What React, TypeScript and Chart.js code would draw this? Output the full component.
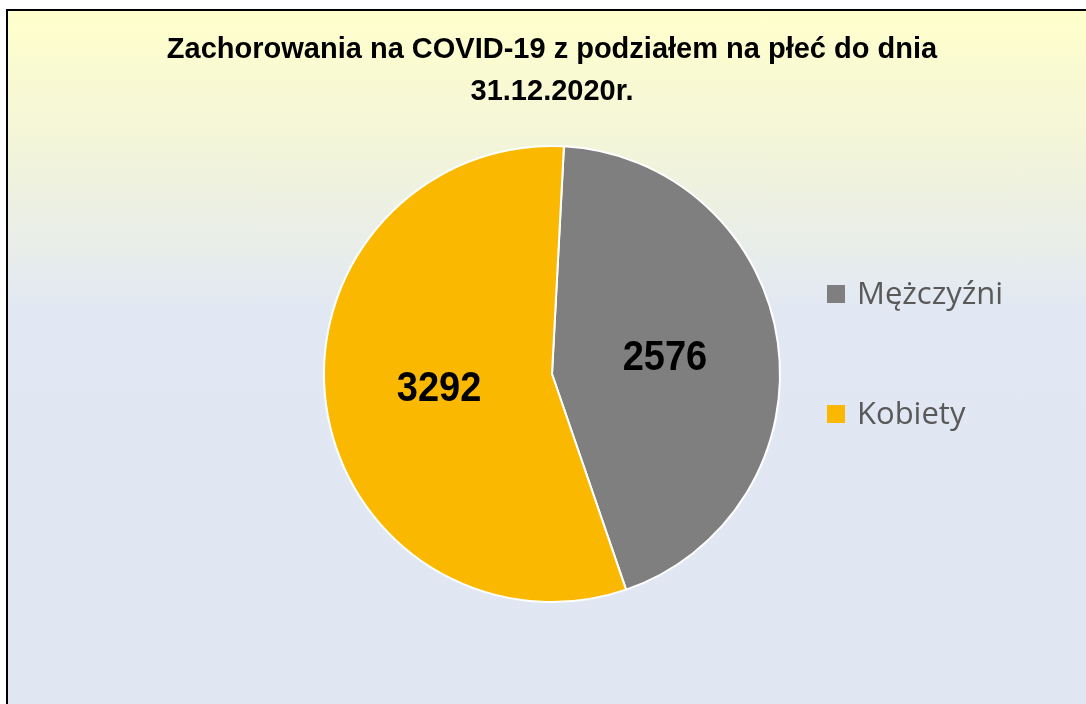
import React, { useEffect, useRef } from "react";
import { Chart, registerables } from "chart.js";

Chart.register(...registerables);

const categories = ["Mężczyźni", "Kobiety"];
const values = [2576, 3292];
const colors = ["#7F7F7F", "#FBB800"];
const titleLines = ["Zachorowania na COVID-19 z podziałem na płeć do dnia", "31.12.2020r."];

const valueLabels = {
  id: "valueLabels",
  afterDatasetsDraw(chart: any) {
    const ctx = chart.ctx;
    const meta = chart.getDatasetMeta(0);
    meta.data.forEach((arc: any, i: number) => {
      const p = arc.tooltipPosition(false);
      ctx.save();
      ctx.font = "bold 38px 'Liberation Sans', Arial, sans-serif";
      ctx.fillStyle = "#000000";
      ctx.textAlign = "center";
      ctx.textBaseline = "middle";
      ctx.translate(p.x, p.y);
      ctx.scale(1, 1.1);
      ctx.fillText(String(chart.data.datasets[0].data[i]), 0, 0);
      ctx.restore();
    });
  },
};

export default function App() {
  const ref = useRef<HTMLCanvasElement | null>(null);

  useEffect(() => {
    if (!ref.current) return;
    const chart = new Chart(ref.current, {
      type: "pie",
      data: {
        labels: categories,
        datasets: [
          {
            data: values,
            backgroundColor: colors,
            borderColor: "#FFFFFF",
            borderWidth: 2,
          },
        ],
      },
      options: {
        responsive: false,
        animation: false,
        rotation: 3,
        radius: 228,
        layout: { padding: { left: 0, right: 0, top: 0, bottom: 77 } },
        plugins: {
          legend: { display: false },
          tooltip: { enabled: false },
          title: {
            display: true,
            text: titleLines,
            color: "#000000",
            font: { family: "'Liberation Sans', Arial, sans-serif", size: 29, weight: "bold", lineHeight: 1.45 },
            padding: { top: 18, bottom: 8 },
          },
        },
      },
      plugins: [valueLabels],
    });
    return () => chart.destroy();
  }, []);

  const legendText: React.CSSProperties = {
    position: "absolute",
    left: 857,
    fontFamily: "'Open Sans', 'Noto Sans', sans-serif",
    fontSize: 31,
    color: "#595959",
    lineHeight: "32px",
    whiteSpace: "nowrap",
  };

  return (
    <div style={{ position: "fixed", left: 0, top: 0, width: 1086, height: 704, overflow: "hidden", background: "#FFFFFF" }}>
      <div
        style={{
          position: "absolute",
          left: 6,
          top: 9,
          width: 1088,
          height: 720,
          border: "2px solid #000000",
          background: "linear-gradient(to bottom, #FFFFCC 0%, #F2F4DA 20%, #E1E8F4 42%, #E0E7F3 100%)",
        }}
      >
        <canvas ref={ref} width={1088} height={693} style={{ display: "block" }} />
      </div>
      {categories.map((c, i) => (
        <React.Fragment key={c}>
          <div
            style={{
              position: "absolute",
              left: 827,
              top: i === 0 ? 285 : 405,
              width: 18,
              height: 18,
              background: colors[i],
            }}
          />
          <div style={{ ...legendText, top: (i === 0 ? 294 : 414) - 18 }}>{c}</div>
        </React.Fragment>
      ))}
    </div>
  );
}
